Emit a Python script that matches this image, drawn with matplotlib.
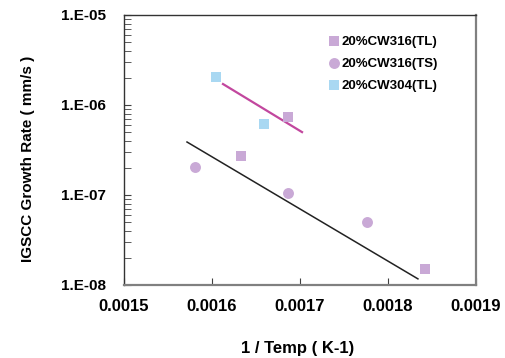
import matplotlib
matplotlib.use("Agg")
import matplotlib.pyplot as plt
from matplotlib.ticker import LogLocator, FixedLocator, NullFormatter

plt.rcParams['font.family'] = ['Liberation Sans', 'DejaVu Sans']
plt.rcParams['font.weight'] = 'bold'

# Data
x_316tl = [0.001686, 0.001633, 0.001842]
y_316tl = [7.4e-7, 2.7e-7, 1.5e-8]
x_316ts = [0.001581, 0.001686, 0.001776]
y_316ts = [2.05e-7, 1.05e-7, 5.0e-8]
x_304tl = [0.0016045, 0.001659]
y_304tl = [2.05e-6, 6.15e-7]
# fit lines (endpoints)
fit_black_x = [0.0015716, 0.001834]
fit_black_y = [3.88e-7, 1.17e-8]
fit_mag_x = [0.0016125, 0.0017023]
fit_mag_y = [1.71e-6, 5.0e-7]

xticks = [0.0015, 0.0016, 0.0017, 0.0018, 0.0019]
xtick_labels = ['0.0015', '0.0016', '0.0017', '0.0018', '0.0019']
yticks = [1e-8, 1e-7, 1e-6, 1e-5]
ytick_labels = ['1.E-08', '1.E-07', '1.E-06', '1.E-05']

lilac = '#C9A9D6'
blue = '#A9D8F2'
magenta = '#C2479E'

fig = plt.figure(figsize=(5.05, 3.58), dpi=100)
ax = fig.add_axes([124/505, 1-285/358, (476-124)/505, (285-15)/358])

ax.plot(fit_mag_x, fit_mag_y, color=magenta, lw=1.6, zorder=2)
ax.plot(fit_black_x, fit_black_y, color='#222222', lw=1.1, zorder=2)
ax.scatter(x_316tl, y_316tl, marker='s', s=58, color=lilac, label='20%CW316(TL)', zorder=3, linewidths=0)
ax.scatter(x_316ts, y_316ts, marker='o', s=62, color=lilac, label='20%CW316(TS)', zorder=3, linewidths=0)
ax.scatter(x_304tl, y_304tl, marker='s', s=58, color=blue, label='20%CW304(TL)', zorder=3, linewidths=0)

ax.set_yscale('log')
ax.set_xlim(0.0015, 0.0019)
ax.set_ylim(1e-8, 1e-5)
ax.xaxis.set_major_locator(FixedLocator(xticks))
ax.set_xticklabels(xtick_labels)
ax.yaxis.set_major_locator(FixedLocator(yticks))
ax.set_yticklabels(ytick_labels)
ax.yaxis.set_minor_locator(LogLocator(base=10, subs=range(2, 10)))
ax.yaxis.set_minor_formatter(NullFormatter())

ax.tick_params(axis='both', which='both', direction='in', colors='#404040', labelcolor='black')
ax.tick_params(axis='x', which='major', length=5, pad=10, labelsize=12)
ax.tick_params(axis='y', which='major', length=5, pad=13, labelsize=11)
ax.tick_params(axis='y', which='minor', length=5)
for lab in ax.get_xticklabels() + ax.get_yticklabels():
    lab.set_fontweight('bold')

for s in ['left', 'top']:
    ax.spines[s].set_color('#333333')
    ax.spines[s].set_linewidth(1.0)
for s in ['right', 'bottom']:
    ax.spines[s].set_color('#808080')
    ax.spines[s].set_linewidth(1.6)

fig.text(298/505, 1-348/358, '1 / Temp ( K-1)', ha='center', va='center', fontsize=12, fontweight='bold')
fig.text(28/505, 1-159/358, 'IGSCC Growth Rate ( mm/s )', ha='center', va='center', rotation=90, fontsize=11, fontweight='bold')

leg = ax.legend(loc='upper left', bbox_to_anchor=((322-124)/352, 1-(30-15)/270), frameon=False,
                fontsize=9.5, handletextpad=0.1, labelspacing=0.75, handlelength=1.0, borderaxespad=0)
for t in leg.get_texts():
    t.set_fontweight('bold')

fig.savefig('out.png', dpi=100)
